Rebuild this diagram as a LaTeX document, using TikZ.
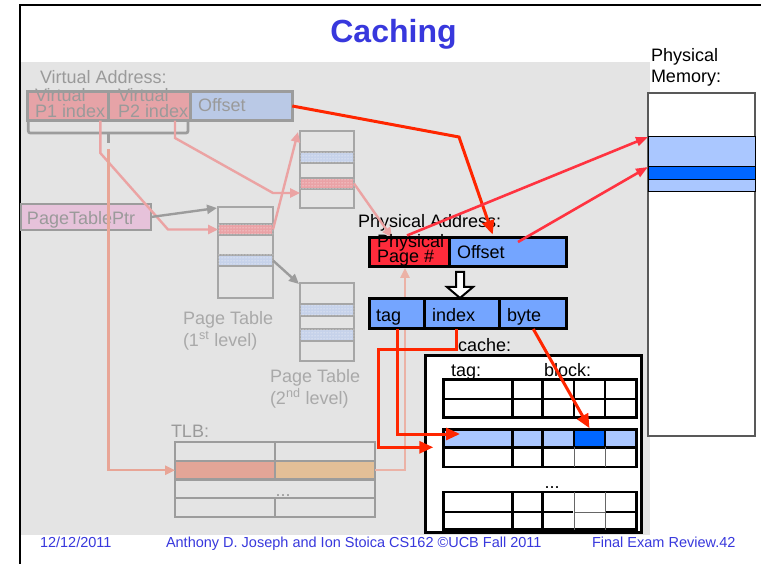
\documentclass[tikz,border=0pt]{standalone}
\usepackage{fontspec}
\setmainfont{Liberation Sans}
\usetikzlibrary{arrows.meta,patterns,calc}

\definecolor{slidegray}{HTML}{E4E4E4}
\definecolor{fadeline}{HTML}{9C9C9C}
\definecolor{fadetext}{HTML}{9A9A9A}
\definecolor{ptlabel}{HTML}{A9A9A9}
\definecolor{ptline}{HTML}{A6A6A6}
\definecolor{vpink}{HTML}{E6A3A7}
\definecolor{vblue}{HTML}{BAC9E6}
\definecolor{ptrpink}{HTML}{E6C2DA}
\definecolor{rowpink}{HTML}{EAA2A6}
\definecolor{rowblue}{HTML}{C6D2EA}
\definecolor{palepink}{HTML}{EBA3A3}
\definecolor{salmon}{HTML}{E8A596}
\definecolor{tlbleft}{HTML}{E3A597}
\definecolor{tlbright}{HTML}{E3BF97}
\definecolor{ppnred}{HTML}{FF2B3B}
\definecolor{addrblue}{HTML}{74A5FF}
\definecolor{lineblue}{HTML}{AAC7FF}
\definecolor{hitblue}{HTML}{0066FF}
\definecolor{arrowred}{HTML}{FF2600}
\definecolor{memred}{HTML}{FF3340}
\definecolor{slideblue}{HTML}{3838DD}

% rectangle node given by its two corners (x1,y1) (x2,y2), y growing downwards
\newcommand\boxnode[6]{%
  \node[#1, inner sep=0pt, outer sep=0pt, anchor=north west,
        minimum width={(#5-#3)*1pt}, minimum height={(#6-#4)*1pt}] (#2) at (#3,#4) {};}

\tikzset{
  txt/.style={inner sep=0pt, outer sep=0pt, font=\fontsize{18}{18}\selectfont},
  ftxt/.style={txt, text=fadetext},
  pttxt/.style={txt, text=ptlabel},
  fadebox/.style={draw=fadeline, line width=2.7pt},
  ptbox/.style={draw=ptline, line width=1.1pt},
  ptpink/.style={ptbox, fill=rowpink, postaction={pattern=dots, pattern color=white}},
  ptblue/.style={ptbox, fill=rowblue, postaction={pattern=dots, pattern color=white}},
  pinkarr/.style={draw=palepink, line width=2.4pt, -{Triangle[length=10pt,width=9pt]}},
  salarr/.style={draw=salmon, line width=2.4pt, -{Triangle[length=10pt,width=9pt]}},
  grayarr/.style={draw=fadeline, line width=2.4pt, -{Triangle[length=10pt,width=9pt]}},
  redarr/.style={draw=arrowred, line width=3pt, -{Triangle[length=14pt,width=12pt]}},
  memarr/.style={draw=memred, line width=2.6pt, -{Triangle[length=12pt,width=9pt]}},
  addrbox/.style={draw=black, line width=3pt},
  grid/.style={draw=black, line width=2.7pt},
  thingrid/.style={draw=black!60, line width=0.8pt},
  foot/.style={inner sep=0pt, outer sep=0pt, text=slideblue, font=\fontsize{14.5}{15}\selectfont},
}

\begin{document}
\begin{tikzpicture}[x=1pt,y=-1pt]
\useasboundingbox (0,0) rectangle (761,564);
\fill[white] (0,0) rectangle (761,564);
\fill[slidegray] (21,62) rectangle (650,535);
\draw[black, line width=2pt] (20,564) -- (20,5) -- (761,5);

% title
\node[inner sep=0pt, text=slideblue, font=\bfseries\fontsize{32}{32}\selectfont, anchor=base] (title) at (393.5,43) {Caching};

% ---------- virtual address (faded) ----------
\node[ftxt, anchor=base west] (valabel) at (40,84) {Virtual Address:};
\boxnode{fadebox, fill=vpink}{vp1}{27.5}{91.3}{108.3}{120.7}
\boxnode{fadebox, fill=vpink}{vp2}{108.3}{91.3}{190.7}{120.7}
\boxnode{fadebox, fill=vblue}{voff}{190.7}{91.3}{292.3}{120.7}
\node[ftxt, anchor=base west] (vp1a) at (35,102) {Virtual};
\node[ftxt, anchor=base west] (vp1b) at (35,118) {P1 index};
\node[ftxt, anchor=base west] (vp2a) at (118,102) {Virtual};
\node[ftxt, anchor=base west] (vp2b) at (118,118) {P2 index};
\node[ftxt, anchor=base west] (vofft) at (198,112) {Offset};
\draw[fadeline, line width=2.7pt] (vp1.north west) -- (voff.north east);

% brace under the two index fields
\draw[fadeline, line width=2.7pt, rounded corners=2pt] (28.3,122) -- (28.3,133) -- (188,133) -- (188,122);
\draw[fadeline, line width=2.7pt] (108.3,133) -- (108.3,143);
\coordinate (brtail) at (108.3,149);

% page table pointer
\boxnode{fadebox, fill=ptrpink}{ptr}{21}{204}{151}{230}
\node[ftxt, anchor=base west] (ptrt) at (27,225) {PageTablePtr};

% first-level page table
\boxnode{ptbox}{pt1}{218}{207}{273}{298}
\boxnode{ptpink}{pt1pink}{218}{224}{273}{235}
\boxnode{ptblue}{pt1blue}{218}{255}{273}{266}
\node[pttxt, anchor=base west] (pt1l1) at (183,325) {Page Table};
\node[pttxt, anchor=base west] (pt1l2) at (183,346) {(1\textsuperscript{st} level)};

% second-level page tables
\boxnode{ptbox}{pt2a}{300}{131}{354}{208}
\boxnode{ptblue}{pt2ablue}{300}{152}{354}{163}
\boxnode{ptpink}{pt2apink}{300}{178}{354}{189}
\boxnode{ptbox}{pt2b}{300}{283}{354}{361}
\boxnode{ptblue}{pt2bblue1}{300}{304}{354}{316}
\boxnode{ptblue}{pt2bblue2}{300}{329}{354}{341}
\node[pttxt, anchor=base west] (pt2l1) at (270,382) {Page Table};
\node[pttxt, anchor=base west] (pt2l2) at (270,404) {(2\textsuperscript{nd} level)};

% TLB
\node[ftxt, anchor=base west] (tlblabel) at (171,437) {TLB:};
\boxnode{fadebox}{tlbL1}{175}{442}{275}{461}
\boxnode{fadebox}{tlbR1}{275}{442}{375}{461}
\boxnode{fadebox, fill=tlbleft}{tlbL2}{175}{461}{275}{479.5}
\boxnode{fadebox, fill=tlbright}{tlbR2}{275}{461}{375}{479.5}
\boxnode{fadebox}{tlb3}{175}{479.5}{375}{498}
\boxnode{fadebox}{tlbL4}{175}{498}{275}{517}
\boxnode{fadebox}{tlbR4}{275}{498}{375}{517}
\node[ftxt, anchor=base] (tlbdots) at (283,496) {...};

% faded translation paths
\draw[pinkarr] ($(vp1.south east)+(-8,0)$) -- (100.3,153) -- (168,229.5) -- (pt1pink.west);
\draw[pinkarr] ($(vp2.south east)+(-15.7,0)$) -- (175,138) -- (273,193) -- ($(pt2a.north west)+(0,62)$);
\draw[pinkarr] (pt1pink.east) -- ($(pt2a.north west)+(-2,1)$);
\draw[grayarr] (ptr.east) -- ($(pt1.north west)+(-1,1)$);
\draw[grayarr] (pt1blue.east) -- ($(pt2b.north west)+(-1,1)$);
\draw[salarr] (brtail) |- (tlbL2.west);

% ---------- physical memory ----------
\node[txt, anchor=base west] (pm1) at (651,62) {Physical};
\node[txt, anchor=base west] (pm2) at (651,83) {Memory:};
\boxnode{draw=black!65, line width=1.1pt, fill=white}{mem}{648}{93}{755}{436}
\boxnode{draw=black, line width=1pt, fill=lineblue}{memA}{648}{137}{755}{192}
\boxnode{draw=black, line width=1pt, fill=hitblue}{memB}{648}{167}{755}{180}

% ---------- physical address ----------
\node[txt, anchor=base west] (palabel) at (358,228) {Physical Address:};
\boxnode{addrbox, fill=ppnred}{ppn}{369}{237.5}{449.7}{266.5}
\boxnode{addrbox, fill=addrblue}{poff}{449.7}{237.5}{566.7}{266.5}
\draw[pinkarr] (pt2apink.east) -- ($(ppn.north west)+(23,0)$);
\draw[salarr, draw=salmon!85!white] (tlbR2.east) -| ($(ppn.south west)+(36,1.5)$);
\node[txt, anchor=base west] (ppnt1) at (377,248) {Physical};
\node[txt, anchor=base west] (ppnt2) at (377,263) {Page \#};
\node[txt, anchor=base west] (pofft) at (457,259) {Offset};
\draw[black, line width=3pt] (ppn.north west) -- (poff.north east);

% split into cache fields
\draw[black, line width=2pt, fill=white, line join=miter]
  (456,272) -- (464,272) -- (464,287) -- (473,287) -- (460,298) -- (447,287) -- (456,287) -- cycle;
\boxnode{addrbox, fill=addrblue}{tagc}{369}{299}{424}{329}
\boxnode{addrbox, fill=addrblue}{idxc}{424}{299}{499.3}{329}
\boxnode{addrbox, fill=addrblue}{bytec}{499.3}{299}{566.7}{329}
\node[txt, anchor=base west] (tagt) at (376,322) {tag};
\node[txt, anchor=base west] (idxt) at (432,322) {index};
\node[txt, anchor=base west] (bytet) at (507,322) {byte};

% ---------- cache ----------
\node[txt, anchor=base west] (cachelabel) at (458,352) {cache:};
\boxnode{draw=black, line width=3pt, fill=white}{cachebox}{425.7}{355.8}{641.7}{532.3}
\node[txt, anchor=base west] (ctag) at (451,377) {tag:};
\node[txt, anchor=base west] (cblock) at (544,377) {block:};
\boxnode{fill=lineblue}{crow}{443.3}{429.7}{636.7}{447.3}
\boxnode{fill=hitblue}{hit}{574}{429.7}{605}{447.3}
\foreach \t/\m/\b in {379.7/399/417.3, 429.7/447.3/467, 492/512/529.7}{
  \draw[grid] (443.3,\t) rectangle (636.7,\b);
  \draw[grid] (443.3,\m) -- (636.7,\m);
  \foreach \x in {512.3,542.7,574,605} \draw[grid] (\x,\t) -- (\x,\b);
}
% cells drawn with light rules
\fill[white] (572.6,448.7) rectangle (606.4,465.6);
\draw[thingrid] (574,447.3) -- (574,467) (605,447.3) -- (605,467);
\fill[white] (572.6,493.4) rectangle (606.4,528.3);
\draw[thingrid] (574,492) -- (574,529.7) (605,492) -- (605,529.7) (574,512) -- (605,512);
\node[txt, anchor=base] (cdots) at (552,488) {...};

% ---------- lookups ----------
\draw[redarr] (voff.east) -- (459,137) -- ($(poff.north west)+(43,-3)$);
\draw[redarr] ($(tagc.south west)+(28,0)$) |- ($(crow.west)+(16.7,-4.5)$);
\draw[redarr] ($(idxc.south west)+(32,0)$) -- ++(0,20) -- ++(-78,0) |- ($(crow.south west)+(-10,0)$);
\draw[redarr] ($(bytec.south west)+(34,0)$) -- ($(hit.north)+(0,-1.5)$);
\draw[memarr] ($(ppn.north west)+(38,-2)$) -- (memA.north west);
\draw[memarr] ($(poff.north west)+(68.3,4.5)$) -- (memB.north west);

% footer
\node[foot, anchor=base west] (fdate) at (40,547) {12/12/2011};
\node[foot, anchor=base west] (fauth) at (166,547) {Anthony D. Joseph and Ion Stoica CS162 ©UCB Fall 2011};
\node[foot, anchor=base west] (fslide) at (592,547) {Final Exam Review.42};
\end{tikzpicture}
\end{document}
